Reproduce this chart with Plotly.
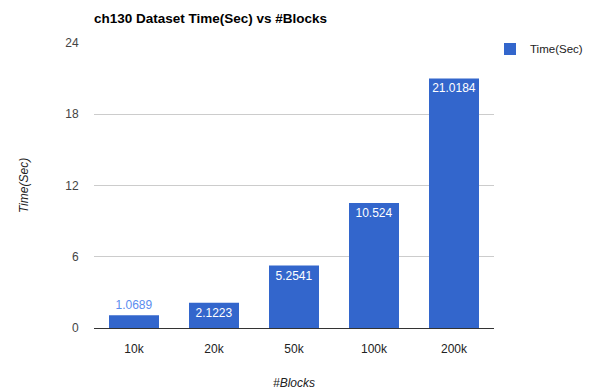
import plotly.graph_objects as go

categories = ["10k", "20k", "50k", "100k", "200k"]
values = [1.0689, 2.1223, 5.2541, 10.524, 21.0184]
labels = ["1.0689", "2.1223", "5.2541", "10.524", "21.0184"]
y_ticks = [0, 6, 12, 18, 24]

FONT = "Liberation Sans, Arial, sans-serif"
BLUE = "#3366cc"

positions = ["outside" if v < 2 else "inside" for v in values]

fig = go.Figure()
fig.add_trace(go.Bar(
    x=categories, y=values, name="Time(Sec)",
    marker=dict(color=BLUE, line=dict(width=0)),
    text=labels, textposition=positions,
    insidetextanchor="end",
    insidetextfont=dict(color="white", size=12, family=FONT),
    outsidetextfont=dict(color="#5b8def", size=12, family=FONT),
    textangle=0, cliponaxis=False,
))

fig.update_layout(
    width=589, height=390,
    margin=dict(l=94, r=95, t=43, b=62, autoexpand=False),
    paper_bgcolor="white", plot_bgcolor="white",
    font=dict(family=FONT, size=12, color="#444"),
    bargap=0.375,
    title=dict(text="<b>ch130 Dataset Time(Sec) vs #Blocks</b>",
               x=94/589, xanchor="left", y=1-18/390, yanchor="middle",
               font=dict(size=13.5, color="#000", family=FONT)),
    showlegend=True,
    legend=dict(x=0.99, y=1.03, xanchor="left", yanchor="top",
                font=dict(size=11.5, color="#222", family=FONT),
                bgcolor="rgba(0,0,0,0)", itemsizing="constant", itemwidth=30),
    xaxis=dict(showgrid=False, ticks="outside", ticklen=10, tickcolor="rgba(0,0,0,0)",
               showline=False,
               tickfont=dict(size=12, color="#222"),
               title=dict(text="<i>#Blocks</i>", font=dict(size=12, color="#222"), standoff=32)),
    yaxis=dict(range=[0, 24], tickvals=y_ticks, showgrid=True, gridcolor="#cccccc",
               zeroline=True, zerolinecolor="#333333", zerolinewidth=1,
               showline=False, ticks="outside", ticklen=12, tickcolor="rgba(0,0,0,0)",
               tickfont=dict(size=12, color="#444"),
               title=dict(text="<i>Time(Sec)</i>", font=dict(size=12, color="#222"), standoff=34)),
)

fig.write_html("out.html")
